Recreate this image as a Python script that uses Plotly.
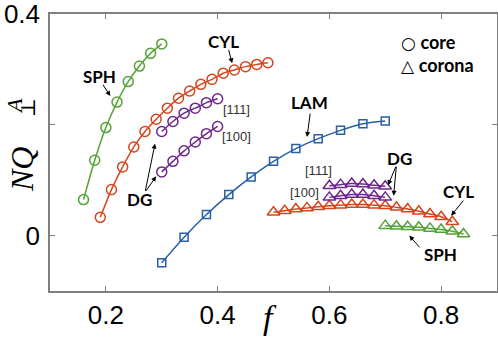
import plotly.graph_objects as go

# core (circles)
sph_core_f = [0.16, 0.18, 0.20, 0.22, 0.24, 0.26, 0.28, 0.30]
sph_core_v = [0.065, 0.136, 0.195, 0.241, 0.278, 0.306, 0.329, 0.346]

cyl_core_f = [0.19, 0.21, 0.23, 0.25, 0.27, 0.29, 0.31, 0.33,
              0.35, 0.37, 0.39, 0.41, 0.43, 0.45, 0.47, 0.49]
cyl_core_v = [0.033, 0.083, 0.124, 0.160, 0.188, 0.210, 0.230, 0.248,
              0.261, 0.273, 0.282, 0.293, 0.299, 0.305, 0.309, 0.312]

dg111_core_f = [0.30, 0.32, 0.34, 0.36, 0.38, 0.40]
dg111_core_v = [0.188, 0.206, 0.221, 0.230, 0.240, 0.247]
dg100_core_f = [0.30, 0.32, 0.34, 0.36, 0.38, 0.40]
dg100_core_v = [0.115, 0.134, 0.153, 0.169, 0.184, 0.197]

# LAM (squares)
lam_f = [0.30, 0.34, 0.38, 0.42, 0.46, 0.50, 0.54, 0.58, 0.62, 0.66, 0.70]
lam_v = [-0.049, -0.003, 0.038, 0.074, 0.106, 0.134, 0.157, 0.175, 0.190, 0.202, 0.207]

# corona (triangles)
dg111_cor_f = [0.60, 0.62, 0.64, 0.66, 0.68, 0.70]
dg111_cor_v = [0.090, 0.092, 0.094, 0.093, 0.091, 0.089]
dg100_cor_f = [0.60, 0.62, 0.64, 0.66, 0.68, 0.70]
dg100_cor_v = [0.069, 0.072, 0.074, 0.074, 0.072, 0.069]

cyl_cor_f = [0.50, 0.52, 0.54, 0.56, 0.58, 0.60, 0.62, 0.64, 0.66,
             0.68, 0.70, 0.72, 0.74, 0.76, 0.78, 0.80, 0.82]
cyl_cor_v = [0.042, 0.045, 0.048, 0.050, 0.052, 0.054, 0.055, 0.056, 0.056,
             0.055, 0.054, 0.051, 0.048, 0.044, 0.039, 0.034, 0.025]

sph_cor_f = [0.70, 0.72, 0.74, 0.76, 0.78, 0.80, 0.82, 0.84]
sph_cor_v = [0.018, 0.017, 0.016, 0.015, 0.013, 0.011, 0.008, 0.003]

x_ticks = [0.2, 0.4, 0.6, 0.8]
x_ticktext = ["0.2", "0.4", "0.6", "0.8"]
y_ticks = [0, 0.2, 0.4]
y_ticktext = ["0", "", "0.4"]

GREEN = "#55a336"
RED = "#d6461e"
PURPLE = "#6e288c"
BLUE = "#285fa5"
AXIS = "#808080"

W, H = 498, 337
L, R, T, B = 50, 1, 14, 46


def px(x, y):
    # pixel -> paper coords
    return (x - L) / (W - L - R), (H - B - y) / (H - T - B)


fig = go.Figure()


def add_series(f, v, color, symbol, size):
    fig.add_trace(go.Scatter(
        x=f, y=v, mode="lines+markers",
        line=dict(color=color, width=1.5, shape="spline", smoothing=0.6),
        marker=dict(symbol=symbol, size=size, color=color,
                    line=dict(color=color, width=1.5)),
        showlegend=False, hoverinfo="skip",
    ))


add_series(sph_core_f, sph_core_v, GREEN, "circle-open", 10)
add_series(cyl_core_f, cyl_core_v, RED, "circle-open", 10)
add_series(dg111_core_f, dg111_core_v, PURPLE, "circle-open", 10)
add_series(dg100_core_f, dg100_core_v, PURPLE, "circle-open", 10)
add_series(lam_f, lam_v, BLUE, "square-open", 8)
add_series(cyl_cor_f, cyl_cor_v, RED, "triangle-up-open", 11)
add_series(dg100_cor_f, dg100_cor_v, PURPLE, "triangle-up-open", 11)
add_series(dg111_cor_f, dg111_cor_v, PURPLE, "triangle-up-open", 11)
add_series(sph_cor_f, sph_cor_v, GREEN, "triangle-up-open", 11)

bold = dict(family="Lato", size=17, color="black")
small = dict(family="Liberation Sans", size=13, color="#333333")

labels = [
    ("SPH", 0.189, 0.288, bold),
    ("CYL", 0.411, 0.351, bold),
    ("DG", 0.261, 0.065, bold),
    ("LAM", 0.565, 0.241, bold),
    ("DG", 0.726, 0.140, bold),
    ("CYL", 0.831, 0.080, bold),
    ("SPH", 0.799, -0.034, bold),
    ("[111]", 0.433, 0.228, small),
    ("[100]", 0.433, 0.178, small),
    ("[111]", 0.581, 0.117, small),
    ("[100]", 0.555, 0.077, small),
]
for txt, xx, yy, fnt in labels:
    t = "<b>%s</b>" % txt if fnt is bold else txt
    fig.add_annotation(x=xx, y=yy, text=t, showarrow=False, font=fnt)

# arrows: (tail f, tail v, head f, head v)
arrows = [
    (0.193, 0.275, 0.208, 0.252),
    (0.419, 0.338, 0.426, 0.311),
    (0.270, 0.078, 0.288, 0.166),
    (0.270, 0.078, 0.290, 0.107),
    (0.566, 0.223, 0.560, 0.178),
    (0.720, 0.127, 0.705, 0.091),
    (0.720, 0.127, 0.715, 0.072),
    (0.842, 0.066, 0.818, 0.036),
    (0.764, -0.024, 0.743, 0.000),
]
for tx, ty, hx, hy in arrows:
    fig.add_annotation(x=hx, y=hy, ax=tx, ay=ty, axref="x", ayref="y",
                       text="", showarrow=True, arrowhead=2, arrowsize=1,
                       arrowwidth=1, arrowcolor="black", standoff=0)


def paper_note(text, x, y, font, angle=0, xanchor="center"):
    pxx, pyy = px(x, y)
    fig.add_annotation(x=pxx, y=pyy, xref="paper", yref="paper", text=text,
                       xanchor=xanchor, yanchor="middle", textangle=angle,
                       showarrow=False, font=font)


# legend text
leg = dict(family="Lato", size=18, color="black")
sym = '<span style="font-family:DejaVu Sans;font-size:17px">%s</span>'
paper_note((sym % "○") + " <b>core</b>", 399, 42, leg, xanchor="left")
paper_note((sym % "△") + " <b>corona</b>", 399, 65, leg, xanchor="left")

# axis titles
serif = "Liberation Serif"
paper_note("<i>f</i>", 270, 317, dict(family=serif, size=34, color="black"))
paper_note("<i>NQ</i>", 22, 170, dict(family=serif, size=32, color="black"), angle=-90)
paper_note("<i>A</i>", 15, 106, dict(family=serif, size=22, color="black"), angle=-90)
paper_note("⊥", 28, 108, dict(family="DejaVu Serif", size=20, color="black"), angle=-90)

axis_common = dict(
    showline=True, linecolor=AXIS, linewidth=1.5, mirror="ticks",
    ticks="inside", ticklen=5, tickwidth=1.2, tickcolor=AXIS,
    showgrid=False, zeroline=False, automargin=False,
    ticklabeloverflow="allow",
    tickfont=dict(family="Liberation Sans", size=26, color="black"),
)

fig.update_layout(
    width=W, height=H,
    margin=dict(l=L, r=R, t=T, b=B),
    plot_bgcolor="white", paper_bgcolor="white",
    xaxis=dict(range=[0.1, 0.9], tickvals=x_ticks, ticktext=x_ticktext,
               ticklabelstandoff=0, **axis_common),
    yaxis=dict(range=[-0.1, 0.4], tickvals=y_ticks, ticktext=y_ticktext,
               ticklabelstandoff=3, **axis_common),
    showlegend=False,
)

# drop the default 8px body margin so the figure sits in the window corner
fig.write_html("out.html", config={"displayModeBar": False},
               post_script="document.body.style.margin = '0';")
